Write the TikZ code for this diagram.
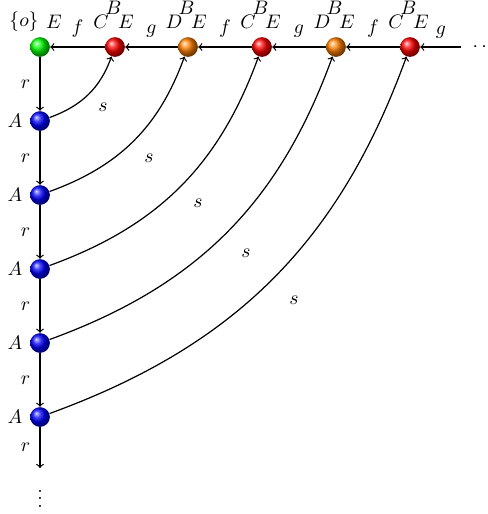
\documentclass[tikz,border=0pt]{standalone}
\usepackage{graphicx}
\newcommand{\mlb}[1]{\scalebox{1.13}{$#1$}}
\begin{document}
\begin{tikzpicture}[x=0.0203cm,y=-0.0203cm,
  ballnode/.style={circle, shading=ball, minimum size=0.40cm, inner sep=0pt},
  conn/.style={->, line width=0.7pt},
  curv/.style={->, line width=0.7pt, out=20, in=-110},
  lbl/.style={inner sep=0pt}]
\useasboundingbox (0,0) rectangle (488,514);
% top row
\node[ballnode, ball color=green] (o) at (40,47) {};
\node[ballnode, ball color=red] (t1) at (115,47) {};
\node[ballnode, ball color=orange] (t2) at (188,47) {};
\node[ballnode, ball color=red] (t3) at (262,47) {};
\node[ballnode, ball color=orange] (t4) at (336,47) {};
\node[ballnode, ball color=red] (t5) at (410,47) {};
\node[lbl] (dotsh) at (484,47) {\mlb{\cdots}};
\coordinate (hstart) at (461,47);
% left column
\node[ballnode, ball color=blue] (a1) at (40,121) {};
\node[ballnode, ball color=blue] (a2) at (40,195) {};
\node[ballnode, ball color=blue] (a3) at (40,269) {};
\node[ballnode, ball color=blue] (a4) at (40,343) {};
\node[ballnode, ball color=blue] (a5) at (40,417) {};
\coordinate (vend) at (40,468);
\node[lbl] (dotsv) at (40,493) {\mlb{\vdots}};
% node labels
\node[lbl] (lo1) at (24,22) {\mlb{\{o\}}};
\node[lbl] (lo2) at (54,22) {\mlb{E}};
\foreach \n/\x/\m in {1/115/C,2/188/D,3/262/C,4/336/D,5/410/C}{
  \node[lbl] (b\n) at (\x-1.5,7.5) {\mlb{B}};
  \node[lbl] (c\n) at (\x-14,22) {\mlb{\m}};
  \node[lbl] (e\n) at (\x+11,22) {\mlb{E}};
}
\foreach \n in {1,...,5}{
  \node[lbl] (la\n) at (15,121+74*\n-74) {\mlb{A}};
}
% horizontal connectors
\draw[conn] (t1) -- node[above=2pt] (f1) {\mlb{f}} (o);
\draw[conn] (t2) -- node[above=2pt] (g1) {\mlb{g}} (t1);
\draw[conn] (t3) -- node[above=2pt] (f2) {\mlb{f}} (t2);
\draw[conn] (t4) -- node[above=2pt] (g2) {\mlb{g}} (t3);
\draw[conn] (t5) -- node[above=2pt] (f3) {\mlb{f}} (t4);
\draw[conn] (hstart) -- (t5);
\node[lbl] (g3) at (441,32) {\mlb{g}};
% vertical connectors
\draw[conn] (o) -- node[left=2pt] (r1) {\mlb{r}} (a1);
\draw[conn] (a1) -- node[left=2pt] (r2) {\mlb{r}} (a2);
\draw[conn] (a2) -- node[left=2pt] (r3) {\mlb{r}} (a3);
\draw[conn] (a3) -- node[left=2pt] (r4) {\mlb{r}} (a4);
\draw[conn] (a4) -- node[left=2pt] (r5) {\mlb{r}} (a5);
\draw[conn] (a5) -- node[left=2pt] (r6) {\mlb{r}} (vend);
% curved connectors
\draw[curv] (a1) to (t1);
\draw[curv] (a2) to (t2);
\draw[curv] (a3) to (t3);
\draw[curv] (a4) to (t4);
\draw[curv] (a5) to (t5);
\node[lbl] (s1) at (103,107) {\mlb{s}};
\node[lbl] (s2) at (149,158) {\mlb{s}};
\node[lbl] (s3) at (198,203) {\mlb{s}};
\node[lbl] (s4) at (246,253) {\mlb{s}};
\node[lbl] (s5) at (294,300) {\mlb{s}};
\end{tikzpicture}
\end{document}
